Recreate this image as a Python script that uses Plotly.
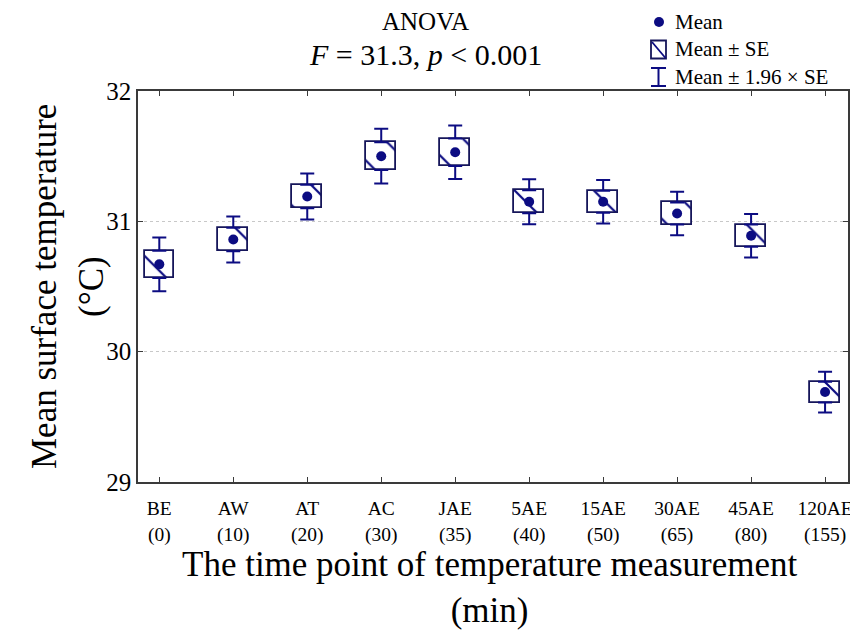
import plotly.graph_objects as go

categories = ["BE", "AW", "AT", "AC", "JAE", "5AE", "15AE", "30AE", "45AE", "120AE"]
minutes = ["(0)", "(10)", "(20)", "(30)", "(35)", "(40)", "(50)", "(65)", "(80)", "(155)"]
means = [30.67, 30.86, 31.19, 31.50, 31.53, 31.15, 31.15, 31.06, 30.89, 29.69]
se = [0.105, 0.090, 0.090, 0.107, 0.105, 0.088, 0.085, 0.085, 0.085, 0.080]
legend_labels = ["Mean", "Mean ± SE", "Mean ± 1.96 × SE"]

# page body has an 8px margin, so the figure is sized to fit the window after it
OFF = 8
W, H = 858 - OFF, 634 - OFF
ML, MR, MT, MB = 138 - OFF, 10, 91 - OFF, 152
PW, PH = W - ML - MR, H - MT - MB

NAVY = "#0c0c82"
BORDER = "#16165a"
AXIS = "#3a3a3a"
FONT = "Liberation Serif, Times New Roman, serif"

# helpers: window pixel -> paper fraction
def px(x):
    return (x - OFF - ML) / PW

def py(y):
    return (H - MB - (y - OFF)) / PH

idx = list(range(len(categories)))
ticktext = [f"{c}<br>{m}" for c, m in zip(categories, minutes)]

fig = go.Figure()

# SE boxes
fig.add_trace(go.Bar(
    x=idx,
    y=[2 * s for s in se],
    base=[m - s for m, s in zip(means, se)],
    width=0.4,
    marker=dict(
        color="white",
        line=dict(color=BORDER, width=1.8),
        pattern=dict(shape="\\", fgcolor=NAVY, bgcolor="white", fgopacity=1,
                     size=28, solidity=0.08),
    ),
    hoverinfo="skip",
    showlegend=False,
))

# upper whiskers (mean+SE -> mean+1.96SE)
fig.add_trace(go.Scatter(
    x=idx,
    y=[m + s for m, s in zip(means, se)],
    mode="markers",
    marker=dict(size=1, opacity=0),
    error_y=dict(type="data", symmetric=False,
                 array=[0.96 * s for s in se], arrayminus=[0] * len(se),
                 width=7, thickness=2, color=NAVY),
    hoverinfo="skip",
    showlegend=False,
))
# lower whiskers
fig.add_trace(go.Scatter(
    x=idx,
    y=[m - s for m, s in zip(means, se)],
    mode="markers",
    marker=dict(size=1, opacity=0),
    error_y=dict(type="data", symmetric=False,
                 array=[0] * len(se), arrayminus=[0.96 * s for s in se],
                 width=7, thickness=2, color=NAVY),
    hoverinfo="skip",
    showlegend=False,
))
# means
fig.add_trace(go.Scatter(
    x=idx, y=means, mode="markers",
    marker=dict(size=10, color=NAVY),
    showlegend=False,
))

# hand-drawn legend (rows at window y)
ROWS = [22, 49.5, 77]
shapes = []
r0, r1, r2 = ROWS
# mean dot
shapes.append(dict(type="circle", xref="paper", yref="paper",
                   x0=px(654), x1=px(664), y0=py(r0 + 5), y1=py(r0 - 5),
                   fillcolor=NAVY, line=dict(color=NAVY, width=0)))
# SE box
shapes.append(dict(type="rect", xref="paper", yref="paper",
                   x0=px(651), x1=px(666), y0=py(r1 + 9), y1=py(r1 - 9),
                   fillcolor="white", line=dict(color=BORDER, width=1.8)))
shapes.append(dict(type="line", xref="paper", yref="paper",
                   x0=px(652), x1=px(665.5), y0=py(r1 - 7.5), y1=py(r1 + 8.5),
                   line=dict(color=NAVY, width=1.8)))
# whisker
shapes.append(dict(type="line", xref="paper", yref="paper",
                   x0=px(658.5), x1=px(658.5), y0=py(r2 - 9), y1=py(r2 + 9),
                   line=dict(color=NAVY, width=2)))
for yy in (r2 - 9, r2 + 9):
    shapes.append(dict(type="line", xref="paper", yref="paper",
                       x0=px(651), x1=px(666), y0=py(yy), y1=py(yy),
                       line=dict(color=NAVY, width=2)))

annotations = []
for txt, yy in zip(legend_labels, ROWS):
    annotations.append(dict(text=txt, xref="paper", yref="paper",
                            x=px(673), y=py(yy), xanchor="left", yanchor="middle",
                            showarrow=False, font=dict(family=FONT, size=21, color="black")))
annotations.append(dict(text="ANOVA",
                        xref="paper", yref="paper", x=px(425), y=py(22),
                        xanchor="center", yanchor="middle", showarrow=False,
                        font=dict(family=FONT, size=25, color="black")))
annotations.append(dict(text="<i>F</i> = 31.3, <i>p</i> &lt; 0.001",
                        xref="paper", yref="paper", x=px(425), y=py(55),
                        xanchor="center", yanchor="middle", showarrow=False,
                        font=dict(family=FONT, size=30, color="black")))
# x-axis title (two lines)
annotations.append(dict(text="The time point of temperature measurement<br>(min)",
                        xref="paper", yref="paper", x=px(489), y=py(587),
                        xanchor="center", yanchor="middle", showarrow=False,
                        font=dict(family=FONT, size=35, color="black")))
# y-axis title (two lines)
for txt, xx in (("Mean surface temperature", 44), ("(°C)", 91)):
    annotations.append(dict(text=txt, xref="paper", yref="paper", textangle=-90,
                            x=px(xx), y=py(287), xanchor="center", yanchor="middle",
                            showarrow=False, font=dict(family=FONT, size=35, color="black")))

fig.update_layout(
    width=W, height=H,
    margin=dict(l=ML, r=MR, t=MT, b=MB, pad=0, autoexpand=False),
    paper_bgcolor="white", plot_bgcolor="white",
    font=dict(family=FONT, color="black"),
    shapes=shapes, annotations=annotations,
    bargap=0,
)
fig.update_xaxes(
    range=[-0.288, 9.31], tickmode="array", tickvals=idx, ticktext=ticktext,
    automargin=False,
    showgrid=False, zeroline=False,
    showline=True, linecolor=AXIS, linewidth=1.5, mirror="ticks",
    ticks="inside", ticklen=5, tickcolor=AXIS, tickwidth=1,
    ticklabelstandoff=8,
    tickfont=dict(family=FONT, size=19.5, color="black"),
)
fig.update_yaxes(
    range=[29, 32], tickvals=[29, 30, 31, 32],
    automargin=False,
    showgrid=True, gridcolor="#c8c8c8", griddash="dot", gridwidth=1,
    zeroline=False,
    showline=True, linecolor=AXIS, linewidth=1.5, mirror="ticks",
    ticks="inside", ticklen=5, tickcolor=AXIS, tickwidth=1,
    tickfont=dict(family=FONT, size=25, color="black"),
)

fig.write_html("out.html")
